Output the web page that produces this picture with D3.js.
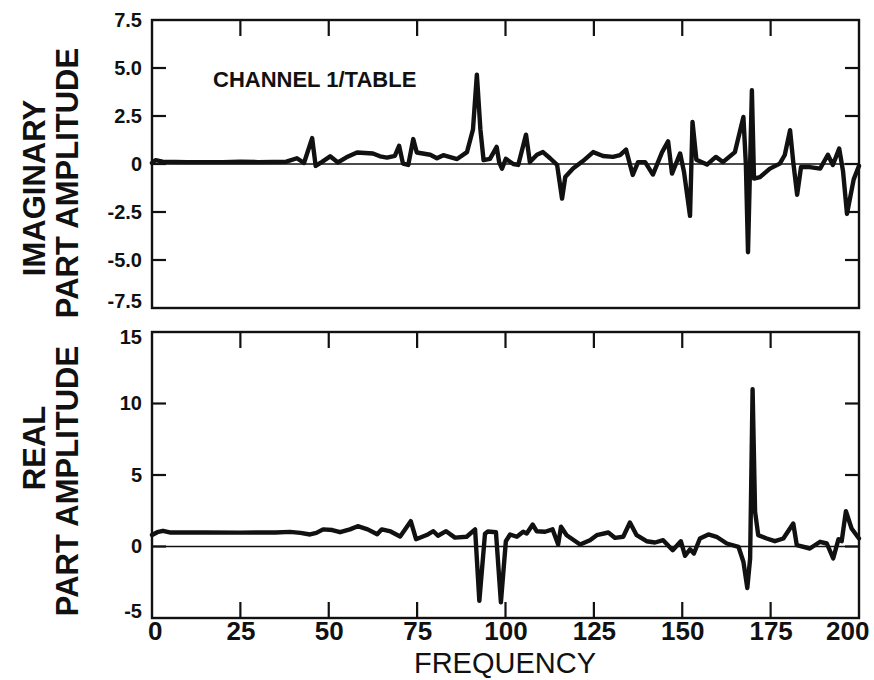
<!DOCTYPE html>
<html>
<head>
<meta charset="utf-8">
<script src="https://cdn.jsdelivr.net/npm/d3@7/dist/d3.min.js"></script>
<style>
  html, body { margin: 0; padding: 0; background: #fff; }
  svg { display: block; }
  text { font-family: "Liberation Sans", Arial, Helvetica, sans-serif; fill: #111; }
</style>
</head>
<body>
<svg id="chart" width="874" height="680"></svg>
<script>
// ---------------- data ----------------
const xTicks = [0, 25, 50, 75, 100, 125, 150, 175, 200];
const xTickLabels = ["0", "25", "50", "75", "100", "125", "150", "175", "200"];

const imagTicks = [-7.5, -5, -2.5, 0, 2.5, 5, 7.5];
const imagTickLabels = ["-7.5", "-5.0", "-2.5", "0", "2.5", "5.0", "7.5"];
const realTicks = [-5, 0, 5, 10, 15];
const realTickLabels = ["-5", "0", "5", "10", "15"];

const freqImag = [0, 1, 3, 10, 20, 25, 30, 38, 41, 43, 45.3, 46.3, 48, 50.4, 52.6, 55, 58, 62.5, 64.5, 66.5,
  68.7, 69.9, 71, 72.5, 73.9, 74.9, 78.7, 80.6, 82.4, 86.3, 89.1, 90.8, 91.9, 92.9, 93.8, 95.6, 97.5, 98.2, 99, 100.1,
  102.2, 103.6, 105.8, 106.9, 108.9, 110.6, 112.6, 114.6, 116, 116.9, 119.1, 121.9, 124.8, 127.6, 130.4, 132.4, 134.1, 136, 137.5, 139.5,
  141.7, 144.3, 146, 147.1, 149.4, 150.5, 152.2, 152.9, 154, 157, 159.5, 161.5, 164.9, 167.3, 168, 168.6, 169.7, 170.3, 172, 174.8,
  177.6, 179, 180.5, 181.4, 182.5, 183.6, 186.1, 189, 191.2, 192.6, 194.4, 195.5, 196.6, 198.5, 200];
const imagAmp = [0.05, 0.2, 0.12, 0.1, 0.1, 0.12, 0.1, 0.12, 0.3, 0.05, 1.35, -0.1, 0.1, 0.4, 0.08, 0.35, 0.6, 0.55, 0.4, 0.33,
  0.42, 0.95, 0.02, -0.05, 1.3, 0.6, 0.48, 0.3, 0.46, 0.26, 0.62, 1.8, 4.65, 1.8, 0.2, 0.27, 0.89, 0.1, -0.24, 0.27,
  0.0, -0.05, 1.53, 0.1, 0.48, 0.62, 0.3, -0.05, -1.8, -0.68, -0.24, 0.15, 0.62, 0.42, 0.37, 0.46, 0.75, -0.57, 0.1, 0.1,
  -0.55, 0.62, 1.18, -0.5, 0.55, -0.42, -2.7, 2.19, 0.22, -0.03, 0.37, 0.1, 0.62, 2.45, -0.03, -4.6, 3.84, -0.76, -0.68, -0.24,
  0.02, 0.47, 1.76, 0.1, -1.6, -0.16, -0.16, -0.24, 0.48, -0.05, 0.8, -0.4, -2.6, -0.8, -0.1];

const freqReal = [0, 1.5, 3.1, 5, 15, 25, 35, 39, 42, 44.7, 46.5, 48.4, 51, 53.2, 56, 58.2, 61, 63.7, 65, 67.5,
  70.2, 73.2, 74.7, 77.7, 79.6, 80.9, 83.2, 85.7, 89, 91.4, 92.6, 94.2, 95, 97.3, 98.7, 100.1, 101.3, 103.2, 105, 106,
  107.7, 108.8, 111.2, 113.3, 114.9, 115.7, 117.3, 121.1, 123.9, 125.8, 129.1, 131, 133.3, 135.2, 137.1, 139.9, 142.3, 144.6, 147.3, 149.6,
  150.8, 152.2, 153.3, 155, 157.4, 159.7, 162.6, 165.9, 167.3, 168.4, 169.2, 169.9, 170.6, 171.5, 173.9, 176.2, 178.6, 181.4, 182.4, 186.1,
  189, 190.9, 192.7, 194.2, 195.1, 196.3, 197.9, 200];
const realAmp = [0.8, 1.0, 1.1, 0.98, 0.98, 0.97, 0.98, 1.02, 0.95, 0.84, 0.95, 1.2, 1.15, 1.0, 1.2, 1.42, 1.2, 0.86, 1.2, 1.05,
  0.7, 1.77, 0.51, 0.8, 1.07, 0.75, 1.07, 0.62, 0.68, 1.2, -3.8, 0.9, 1.05, 1.0, -3.9, 0.37, 0.84, 0.68, 1.03, 0.91,
  1.54, 1.07, 1.03, 1.2, 0.14, 1.38, 0.79, 0.14, 0.44, 0.79, 0.98, 0.6, 0.68, 1.68, 0.79, 0.37, 0.28, 0.44, -0.26, 0.37,
  -0.65, -0.19, -0.49, 0.56, 0.84, 0.68, 0.21, -0.02, -1.07, -2.9, -0.84, 11.0, 2.43, 0.79, 0.56, 0.37, 0.56, 1.61, 0.1, -0.14,
  0.33, 0.21, -0.84, 0.51, 0.37, 2.47, 1.26, 0.56];

// ---------------- layout ----------------
const svg = d3.select("#chart");
const X0 = 152, X1 = 859;
const x = d3.scaleLinear().domain([0, 200]).range([X0, X1]);

const panels = [
  { top: 20, bottom: 308, domain: [-7.5, 7.5], ticks: imagTicks, labels: imagTickLabels,
    innerTicks: [-5, -2.5, 0, 2.5, 5], freq: freqImag, vals: imagAmp,
    title1: "IMAGINARY", title2: "PART AMPLITUDE", t1y: 188, t2y: 183, topTicks: true, bottomTicks: false },
  { top: 332, bottom: 618, domain: [-5, 15], ticks: realTicks, labels: realTickLabels,
    innerTicks: [0, 5, 10], freq: freqReal, vals: realAmp,
    title1: "REAL", title2: "PART AMPLITUDE", t1y: 448, t2y: 481, topTicks: true, bottomTicks: true }
];

const TL = 14;
const innerX = xTicks.slice(1, -1);

panels.forEach((p, i) => {
  const y = d3.scaleLinear().domain(p.domain).range([p.bottom, p.top]);
  const g = svg.append("g");

  // zero line
  g.append("line")
    .attr("x1", X0).attr("x2", X1).attr("y1", y(0)).attr("y2", y(0))
    .attr("stroke", "#111").attr("stroke-width", 1.6);

  // inner tick marks
  const tickG = g.append("g").attr("stroke", "#111").attr("stroke-width", 2.2);
  p.innerTicks.forEach(v => {
    tickG.append("line").attr("x1", X0).attr("x2", X0 + TL).attr("y1", y(v)).attr("y2", y(v));
    tickG.append("line").attr("x1", X1).attr("x2", X1 - TL).attr("y1", y(v)).attr("y2", y(v));
  });
  innerX.forEach(v => {
    if (p.topTicks) tickG.append("line").attr("x1", x(v)).attr("x2", x(v)).attr("y1", p.top).attr("y2", p.top + TL + 2);
    if (p.bottomTicks) tickG.append("line").attr("x1", x(v)).attr("x2", x(v)).attr("y1", p.bottom).attr("y2", p.bottom - TL - 2);
  });

  // frame
  g.append("rect")
    .attr("x", X0).attr("y", p.top).attr("width", X1 - X0).attr("height", p.bottom - p.top)
    .attr("fill", "none").attr("stroke", "#111").attr("stroke-width", 2.4);

  // y tick labels via d3 axis
  const yAxis = d3.axisLeft(y).tickValues(p.ticks).tickSize(0).tickPadding(10)
    .tickFormat((d, k) => p.labels[k]);
  const ya = g.append("g").attr("transform", `translate(${X0},0)`).call(yAxis);
  ya.select(".domain").remove();
  ya.selectAll("text")
    .style("font-family", '"Liberation Sans", Arial, sans-serif')
    .style("font-size", "20px").style("font-weight", "bold").attr("fill", "#111")
    .attr("dy", (d, k) => {
      if (d === p.domain[1]) return (i === 0 ? "0.32em" : "0.55em");
      if (d === p.domain[0]) return "-0.05em";
      return "0.32em";
    });

  // series line
  const data = p.freq.map((f, k) => [f, p.vals[k]]);
  g.append("path")
    .datum(data)
    .attr("fill", "none").attr("stroke", "#111").attr("stroke-width", 4.4)
    .attr("stroke-linejoin", "round").attr("stroke-linecap", "round")
    .attr("d", d3.line().x(d => x(d[0])).y(d => y(d[1])));

  // axis titles
  g.append("text")
    .attr("transform", `translate(${45},${p.t1y}) rotate(-90)`)
    .attr("text-anchor", "middle")
    .style("font-size", "31px").style("font-weight", "bold")
    .text(p.title1);
  g.append("text")
    .attr("transform", `translate(${78},${p.t2y}) rotate(-90)`)
    .attr("text-anchor", "middle")
    .style("font-size", "31px").style("font-weight", "bold")
    .text(p.title2);

  if (i === 1) {
    const xAxis = d3.axisBottom(x).tickValues(xTicks).tickSize(0).tickPadding(4)
      .tickFormat((d, k) => xTickLabels[k]);
    const xa = g.append("g").attr("transform", `translate(0,${p.bottom})`).call(xAxis);
    xa.select(".domain").remove();
    xa.selectAll("text")
      .style("font-family", '"Liberation Sans", Arial, sans-serif')
      .style("font-size", "26px").style("font-weight", "bold").attr("fill", "#111")
      .attr("dx", d => d === 200 ? "-0.45em" : (d === 0 ? "0.1em" : 0));
  }
});

// annotation
svg.append("text")
  .attr("x", 213).attr("y", 87)
  .style("font-size", "22px").style("font-weight", "bold")
  .text("CHANNEL  1/TABLE");

// x axis title
svg.append("text")
  .attr("x", 505).attr("y", 673)
  .attr("text-anchor", "middle")
  .style("font-size", "29px")
  .text("FREQUENCY");
</script>
</body>
</html>
